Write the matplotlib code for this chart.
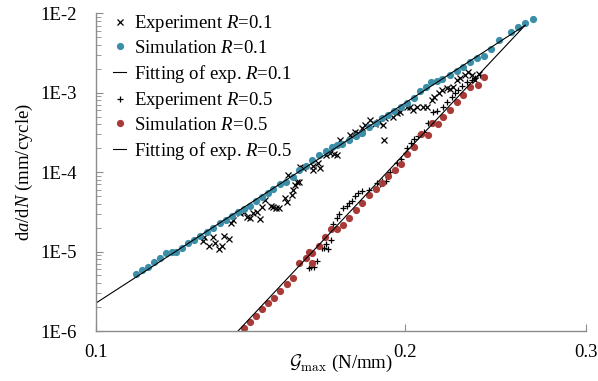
import numpy as np
import matplotlib
matplotlib.use("Agg")
import matplotlib.pyplot as plt
from matplotlib.ticker import FixedLocator, FixedFormatter, NullLocator, LogLocator, NullFormatter

plt.rcParams['font.family'] = 'Liberation Serif'
plt.rcParams['mathtext.fontset'] = 'custom'
plt.rcParams['mathtext.rm'] = 'Liberation Serif'
plt.rcParams['mathtext.it'] = 'Liberation Serif:italic'

# Simulation R=0.1
sim1_x = [0.1094, 0.1109, 0.1124, 0.1139, 0.1155, 0.1171, 0.1185, 0.1196, 0.1213, 0.1230,
          0.1246, 0.1264, 0.1284, 0.1301, 0.1320, 0.1339, 0.1356, 0.1376, 0.1394, 0.1413,
          0.1432, 0.1450, 0.1470, 0.1488, 0.1511, 0.1531, 0.1554, 0.1578, 0.1601, 0.1624,
          0.1649, 0.1674, 0.1696, 0.1718, 0.1737, 0.1764, 0.1790, 0.1816, 0.1845, 0.1873,
          0.1898, 0.1926, 0.1952, 0.1980, 0.2010, 0.2040, 0.2068, 0.2096, 0.2121, 0.2147,
          0.2174, 0.2212, 0.2245, 0.2279, 0.2313, 0.2351, 0.2387, 0.2423, 0.2466, 0.2537,
          0.2577, 0.2618, 0.2662]
sim1_y = [5.21e-6, 5.79e-6, 6.44e-6, 7.31e-6, 8.36e-6, 9.57e-6, 9.94e-6, 9.94e-6, 1.10e-5, 1.27e-5,
          1.40e-5, 1.57e-5, 1.78e-5, 1.96e-5, 2.26e-5, 2.49e-5, 2.80e-5, 3.17e-5, 3.43e-5, 3.74e-5,
          4.36e-5, 4.82e-5, 5.51e-5, 6.12e-5, 7.08e-5, 7.57e-5, 8.75e-5, 1.05e-4, 1.21e-4, 1.42e-4,
          1.63e-4, 1.83e-4, 2.09e-4, 2.18e-4, 2.26e-4, 2.54e-4, 2.85e-4, 3.13e-4, 3.66e-4, 4.12e-4,
          4.76e-4, 5.24e-4, 5.93e-4, 6.55e-4, 7.48e-4, 8.50e-4, 1.06e-3, 1.19e-3, 1.38e-3, 1.42e-3,
          1.48e-3, 1.66e-3, 1.89e-3, 2.12e-3, 2.44e-3, 2.71e-3, 2.90e-3, 3.52e-3, 4.61e-3, 5.77e-3,
          6.67e-3, 7.62e-3, 8.40e-3]

# Simulation R=0.5
sim5_x = [0.1394, 0.1413, 0.1432, 0.1452, 0.1472, 0.1492, 0.1512, 0.1533, 0.1556, 0.1576,
          0.1601, 0.1613, 0.1624, 0.1622, 0.1648, 0.1671, 0.1694, 0.1717, 0.1739, 0.1764,
          0.1791, 0.1817, 0.1845, 0.1872, 0.1898, 0.1924, 0.1953, 0.1982, 0.2009, 0.2042,
          0.2072, 0.2104, 0.2123, 0.2153, 0.2177, 0.2212, 0.2245, 0.2279, 0.2313, 0.2356,
          0.2387]
sim5_y = [1.08e-6, 1.29e-6, 1.55e-6, 1.87e-6, 2.23e-6, 2.64e-6, 3.15e-6, 3.90e-6, 4.71e-6, 7.10e-6,
          8.36e-6, 9.94e-6, 9.66e-6, 7.10e-6, 1.18e-5, 1.52e-5, 1.90e-5, 1.90e-5, 2.16e-5, 2.68e-5,
          3.33e-5, 4.05e-5, 5.22e-5, 6.12e-5, 7.40e-5, 8.93e-5, 1.06e-4, 1.25e-4, 1.71e-4, 2.09e-4,
          3.02e-4, 2.93e-4, 4.19e-4, 4.04e-4, 4.94e-4, 6.05e-4, 7.64e-4, 9.27e-4, 1.17e-3, 1.25e-3,
          1.56e-3]

# Experiment R=0.1
exp1_x = [0.1270, 0.1275, 0.1288, 0.1300, 0.1307, 0.1318, 0.1327, 0.1332, 0.1348,
          0.1353, 0.1361, 0.1381, 0.1394, 0.1404, 0.1413, 0.1423, 0.1434, 0.1444, 0.1452,
          0.1461, 0.1480, 0.1488, 0.1497, 0.1508, 0.1528, 0.1536, 0.1539, 0.1551, 0.1556,
          0.1562, 0.1568, 0.1576, 0.1580, 0.1592,
          0.1626, 0.1628, 0.1644, 0.1652, 0.1675, 0.1690, 0.1705, 0.1716, 0.1728, 0.1767,
          0.1787, 0.1800, 0.1814, 0.1828, 0.1849, 0.1870, 0.1885, 0.1905, 0.1912, 0.1908,
          0.1948, 0.1963, 0.1977, 0.2007, 0.2022, 0.2037, 0.2053, 0.2083, 0.2099, 0.2123,
          0.2135, 0.2159, 0.2174, 0.2195, 0.2212, 0.2228, 0.2245, 0.2262, 0.2288, 0.2305,
          0.2321, 0.2339, 0.2361]
exp1_y = [1.36e-5, 1.52e-5, 1.17e-5, 1.52e-5, 1.28e-5, 1.09e-5, 1.16e-5, 1.57e-5, 1.42e-5,
          2.31e-5, 2.49e-5, 3.03e-5, 3.17e-5, 2.74e-5, 2.62e-5, 3.03e-5, 3.17e-5, 2.55e-5, 3.60e-5,
          4.45e-5, 3.74e-5, 3.67e-5, 3.56e-5, 3.50e-5, 4.68e-5, 4.24e-5, 9.19e-5, 5.15e-5, 5.95e-5,
          6.89e-5, 7.57e-5, 7.57e-5, 1.17e-4, 1.12e-4,
          1.06e-4, 1.20e-4, 1.29e-4, 1.12e-4, 1.64e-4, 1.73e-4, 1.69e-4, 1.64e-4, 2.54e-4, 2.93e-4,
          3.23e-4, 3.08e-4, 3.56e-4, 3.92e-4, 4.53e-4, 4.04e-4, 4.28e-4, 3.92e-4, 4.76e-4, 2.54e-4,
          4.99e-4, 5.50e-4, 5.77e-4, 6.67e-4, 6.67e-4, 6.05e-4, 6.67e-4, 6.67e-4, 6.67e-4, 8.09e-4,
          8.91e-4, 9.82e-4, 1.08e-3, 1.14e-3, 1.10e-3, 1.19e-3, 1.45e-3, 1.52e-3, 1.67e-3, 1.84e-3,
          1.67e-3, 1.45e-3, 1.72e-3]

# Experiment R=0.5
exp5_x = [0.1613, 0.1619, 0.1630, 0.1640, 0.1659, 0.1667, 0.1675, 0.1681, 0.1692, 0.1702,
          0.1715, 0.1725, 0.1740, 0.1754, 0.1765, 0.1775, 0.1787, 0.1801, 0.1814, 0.1846,
          0.1876, 0.1890, 0.1899, 0.1918, 0.1933, 0.1963, 0.1980, 0.2004, 0.2007, 0.2026,
          0.2040, 0.2060, 0.2086, 0.2107, 0.2130, 0.2148, 0.2176, 0.2195, 0.2220, 0.2237,
          0.2253, 0.2270, 0.2296, 0.2321, 0.2339, 0.2365]
exp5_y = [6.19e-6, 6.38e-6, 6.38e-6, 7.59e-6, 1.10e-5, 1.10e-5, 1.23e-5, 1.08e-5, 1.40e-5, 2.22e-5,
          2.68e-5, 2.97e-5, 3.50e-5, 3.74e-5, 4.14e-5, 4.39e-5, 5.00e-5, 5.51e-5, 5.78e-5, 5.95e-5,
          7.29e-5, 7.08e-5, 7.83e-5, 7.73e-5, 1.00e-4, 1.29e-4, 1.45e-4, 1.73e-4, 2.00e-4, 2.35e-4,
          2.59e-4, 2.85e-4, 3.23e-4, 4.19e-4, 5.71e-4, 5.88e-4, 6.67e-4, 7.71e-4, 8.91e-4, 9.82e-4,
          1.08e-3, 1.21e-3, 1.38e-3, 1.45e-3, 1.52e-3, 1.67e-3]

# Fitting lines (end points)
fit1_x = [0.1, 0.2617]
fit1_y = [2.25e-6, 7.06e-3]
fit5_x = [0.1375, 0.2617]
fit5_y = [1.0e-6, 7.06e-3]

x_ticks = [0.1, 0.2, 0.3]
x_labels = ['0.1', '0.2', '0.3']
y_ticks = [1e-6, 1e-5, 1e-4, 1e-3, 1e-2]
y_labels = ['1E-6', '1E-5', '1E-4', '1E-3', '1E-2']

blue = '#3b8ea8'
red = '#a83a37'
grey = '#8c8c8c'
fs = 13.5

fig = plt.figure(figsize=(5.98, 3.81), dpi=100)
ax = fig.add_axes([0.1605, 0.1312, 0.8194, 0.8339])

ax.plot(exp1_x, exp1_y, linestyle='none', marker='x', color='black', markersize=4.2, mew=0.9,
        label='Experiment $R$=0.1')
ax.plot(sim1_x, sim1_y, linestyle='none', marker='o', color=blue, markersize=5.2, mew=0,
        label='Simulation $R$=0.1')
ax.plot(fit1_x, fit1_y, color='black', lw=0.8, label='Fitting of exp. $R$=0.1')
ax.plot(exp5_x, exp5_y, linestyle='none', marker='+', color='black', markersize=4.8, mew=0.9,
        label='Experiment $R$=0.5')
ax.plot(sim5_x, sim5_y, linestyle='none', marker='o', color=red, markersize=5.2, mew=0,
        label='Simulation $R$=0.5')
ax.plot(fit5_x, fit5_y, color='black', lw=0.8, label='Fitting of exp. $R$=0.5')

ax.set_xscale('log')
ax.set_yscale('log')
ax.set_xlim(0.1, 0.3)
ax.set_ylim(1e-6, 1e-2)

ax.xaxis.set_major_locator(FixedLocator(x_ticks))
ax.xaxis.set_major_formatter(FixedFormatter(x_labels))
ax.xaxis.set_minor_locator(NullLocator())
ax.yaxis.set_major_locator(FixedLocator(y_ticks))
ax.yaxis.set_major_formatter(FixedFormatter(y_labels))
ax.yaxis.set_minor_locator(LogLocator(base=10, subs=np.arange(2, 10)))
ax.yaxis.set_minor_formatter(NullFormatter())

for side in ['top', 'right']:
    ax.spines[side].set_visible(False)
for side in ['left', 'bottom']:
    ax.spines[side].set_color(grey)
    ax.spines[side].set_linewidth(1.0)

ax.tick_params(axis='both', which='both', direction='in', color=grey, labelsize=fs)
ax.tick_params(axis='y', which='major', length=5, pad=14)
ax.tick_params(axis='y', which='minor', length=3.5)
ax.tick_params(axis='x', which='major', length=5, pad=9)

ax.set_ylabel('d$a$/d$N$ (mm/cycle)', fontsize=fs)
ax.yaxis.set_label_coords(-0.125, 0.5)
ax.set_xlabel(r'$\mathcal{G}_{\rm max}$ (N/mm)', fontsize=fs, math_fontfamily='cm')
ax.xaxis.set_label_coords(0.5, -0.07)

ax.legend(loc='upper left', bbox_to_anchor=(0.035, 1.0), frameon=False, fontsize=fs,
          handlelength=0.7, handletextpad=0.4, labelspacing=0.3, borderpad=0,
          borderaxespad=0, numpoints=1)

fig.savefig('out.png', dpi=100)
